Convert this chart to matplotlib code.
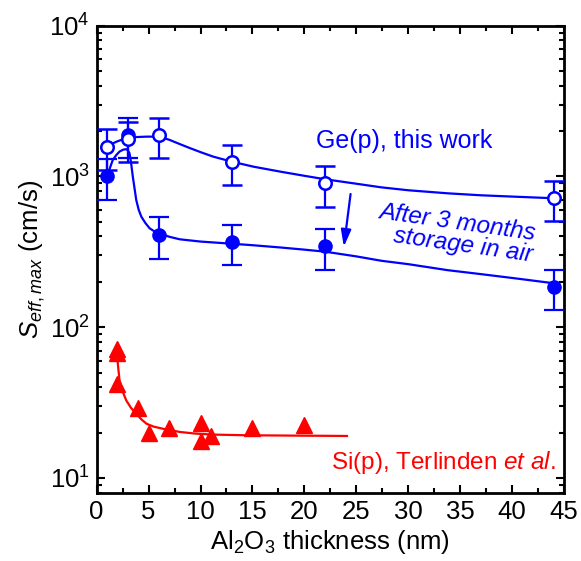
import numpy as np
import matplotlib
matplotlib.use('Agg')
import matplotlib.pyplot as plt

plt.rcParams['font.family'] = ['Liberation Sans', 'DejaVu Sans']
plt.rcParams['mathtext.fontset'] = 'custom'
plt.rcParams['mathtext.rm'] = 'Liberation Sans'
plt.rcParams['mathtext.it'] = 'Liberation Sans:italic'
plt.rcParams['mathtext.bf'] = 'Liberation Sans:bold'

# Ge(p), this work
ge_x = [1, 3, 6, 13, 22, 44]
ge_fresh = [1580, 1770, 1890, 1250, 900, 720]
ge_fresh_err = [470, 530, 570, 375, 270, 215]
ge_aged = [1000, 1880, 410, 370, 345, 185]
ge_aged_err = [300, 560, 125, 110, 105, 55]

# fit curves
fit_fresh_x = [1, 1.5, 1.9, 2.4, 2.9, 3.8, 4.8, 6, 7, 8, 9, 10, 11.2, 13, 15.1, 17.7,
               20, 22, 25, 27.4, 30, 33.8, 37, 40.3, 44.2]
fit_fresh_y = [1580, 1650, 1700, 1750, 1795, 1825, 1837, 1837, 1750, 1640, 1540, 1450,
               1355, 1254, 1161, 1076, 1010, 958, 895, 847, 810, 773, 750, 734, 716]
fit_aged_x = [1, 1.3, 1.55, 1.9, 2.2, 2.55, 2.85, 3.0, 3.16, 3.3, 3.48, 3.65, 3.81,
              4.05, 4.3, 4.7, 5.1, 5.5, 6, 7, 8, 10, 13, 15, 17.7, 20, 22, 25,
              27.4, 30, 33.8, 37, 40.3, 44.2]
fit_aged_y = [1008, 1150, 1288, 1390, 1462, 1505, 1517, 1490, 1427, 1250, 997, 830, 698,
              600, 541, 490, 453, 435, 420, 398, 383, 370, 358, 350, 338, 327, 317, 295,
              276, 262, 239, 225, 211, 195]

# Si(p), Terlinden et al.
si_x = [2, 2, 2, 4, 5, 7, 10, 10, 11, 15, 20]
si_y = [72, 67, 42, 29, 20, 21.5, 23, 17.7, 19, 21.5, 22.5]
fit_si_x = [1.94, 2.05, 2.2, 2.5, 2.85, 3.3, 3.8, 4.3, 4.8, 5.5, 6.4, 8, 9.5, 11.2, 14.5, 19, 24.1]
fit_si_y = [70.3, 56, 44.5, 37.5, 32.7, 29.2, 26.7, 24.5, 22.9, 21.9, 21.2, 20.2, 19.7,
            19.4, 19.2, 19.1, 19.0]

blue = '#0000ff'
red = '#ff0000'

fig = plt.figure(figsize=(5.81, 5.61), dpi=100)
ax = fig.add_axes([0.1664, 0.1212, 0.8043, 0.833])

ax.plot(fit_fresh_x, fit_fresh_y, color=blue, lw=1.6, zorder=2)
ax.plot(fit_aged_x, fit_aged_y, color=blue, lw=1.6, zorder=2)
ax.plot(fit_si_x, fit_si_y, color=red, lw=1.6, zorder=2)

ax.errorbar(ge_x, ge_aged, yerr=ge_aged_err, fmt='o', color=blue, ms=9.5,
            elinewidth=1.6, capsize=7, capthick=1.6, zorder=3)
ax.errorbar(ge_x, ge_fresh, yerr=ge_fresh_err, fmt='o', color=blue, mfc='white',
            mec=blue, mew=1.8, ms=9, elinewidth=1.6, capsize=7, capthick=1.6, zorder=4)
ax.plot(si_x, si_y, '^', color=red, ms=12, zorder=3)

ax.annotate('', xy=(23.8, 342), xytext=(24.45, 765),
            arrowprops=dict(arrowstyle='-|>,head_length=1.0,head_width=0.3',
                            color=blue, lw=1.6, shrinkA=0, shrinkB=0))

ax.text(29.6, 1722, 'Ge(p), this work', color=blue, fontsize=18,
        ha='center', va='center')
ax.text(34.6, 420, 'After 3 months\nstorage in air', color=blue, fontsize=17.5,
        style='italic', ha='center', va='center', multialignment='right',
        rotation=-8, rotation_mode='anchor', linespacing=0.9)
ax.text(44.2, 12.7, r'Si(p), Terlinden $\it{et\ al.}$', color=red, fontsize=17.5,
        ha='right', va='center')

ax.set_yscale('log')
ax.set_xlim(0, 45)
ax.set_ylim(7.95, 1e4)
ax.set_xticks(np.arange(0, 46, 5))
ax.set_xticks(np.arange(2.5, 45, 5), minor=True)

ax.tick_params(which='both', direction='in', top=True, right=True, labelsize=18.5,
               width=1.5)
ax.tick_params(which='major', length=6)
ax.tick_params(which='minor', length=3.5)
ax.tick_params(axis='x', pad=5)
ax.tick_params(axis='y', pad=5)
for s in ax.spines.values():
    s.set_linewidth(2)

ax.set_xlabel(r'Al$_2$O$_3$ thickness (nm)', fontsize=18.5, labelpad=3)
ax.set_ylabel(r'$S_{eff,max}$ (cm/s)', fontsize=18.5, labelpad=2)

fig.savefig('out.png', dpi=100)
